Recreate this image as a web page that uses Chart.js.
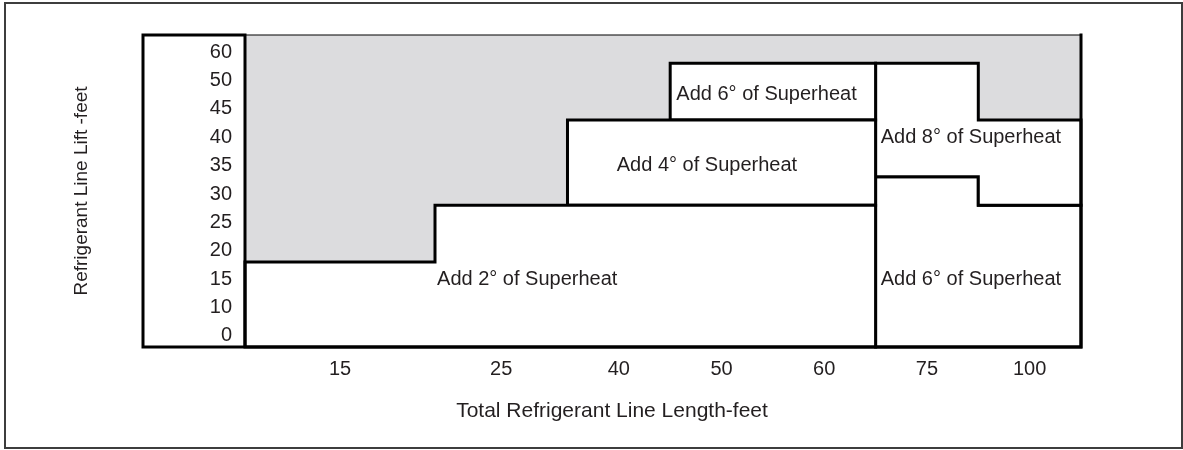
<!DOCTYPE html>
<html>
<head>
<meta charset="utf-8">
<script src="https://cdn.jsdelivr.net/npm/chart.js@4.4.1/dist/chart.umd.min.js"></script>
<style>
  html, body { margin: 0; padding: 0; background: #fff; }
  #page { position: relative; width: 1183px; height: 450px; overflow: hidden; }
  #border { position: absolute; left: 4px; top: 2px; width: 1179px; height: 447px;
            box-sizing: border-box; border: 2px solid #3d3d3d; pointer-events: none; }
  canvas { position: absolute; left: 0; top: 0; }
</style>
</head>
<body>
<div id="page">
  <canvas id="chart" width="1183" height="450"></canvas>
  <div id="border"></div>
</div>
<script>
// Length columns (feet) along the bottom, and their relative widths
const lengthLabels = ['15', '25', '40', '50', '60', '75', '100'];
const lengthColumnWidths = [1.85, 1.29, 1, 1, 1, 1, 1];

// Lift rows (feet), bottom to top
const liftLabels = [0, 10, 15, 20, 25, 30, 35, 40, 45, 50, 60];

// Superheat zones: per length column, [lift above, lift up to]; null = column not in zone
const superheat2 = [[null, 15], [null, 25], [null, 25], [null, 25], [null, 25], null, null];
const superheat4 = [null, null, [25, 40], [25, 40], [25, 40], null, null];
const superheat6Upper = [null, null, null, [40, 50], [40, 50], null, null];
const superheat8 = [null, null, null, null, null, [30, 50], [25, 40]];
const superheat6Lower = [null, null, null, null, null, [null, 30], [null, 25]];

const zoneNames = ['Add 2° of Superheat', 'Add 4° of Superheat', 'Add 6° of Superheat',
                   'Add 8° of Superheat', 'Add 6° of Superheat'];
const zoneRanges = [superheat2, superheat4, superheat6Upper, superheat8, superheat6Lower];

const FONT = '"Liberation Sans", Arial, Helvetica, sans-serif';
const TEXT = '#231f20';

// column edges in axis units
const columnEdges = [0];
lengthColumnWidths.forEach((w, i) => columnEdges.push(columnEdges[i] + w));
const lengthMax = columnEdges[columnEdges.length - 1];

// top of a lift row in axis units (null = ground)
const rowTop = v => v === null ? 0 : liftLabels.indexOf(v) + 1;

// closed outline of a zone, walking its top steps left→right and its bottom steps back
function zoneOutline(ranges) {
  const cols = ranges.map((r, i) => r ? i : -1).filter(i => i >= 0);
  let pts = [];
  cols.forEach(i => {
    const t = rowTop(ranges[i][1]);
    pts.push({ x: columnEdges[i], y: t }, { x: columnEdges[i + 1], y: t });
  });
  cols.slice().reverse().forEach(i => {
    const b = rowTop(ranges[i][0]);
    pts.push({ x: columnEdges[i + 1], y: b }, { x: columnEdges[i], y: b });
  });
  // drop repeated and collinear points so corners join cleanly
  pts = pts.filter((p, i) => i === 0 || p.x !== pts[i - 1].x || p.y !== pts[i - 1].y);
  const out = [];
  pts.forEach((p, i) => {
    const prev = pts[(i - 1 + pts.length) % pts.length];
    const next = pts[(i + 1) % pts.length];
    const collinear = (prev.x === p.x && p.x === next.x) || (prev.y === p.y && p.y === next.y);
    if (!collinear) out.push(p);
  });
  out.push({ ...out[0] });
  return out;
}

const plotBackground = {
  id: 'plotBackground',
  beforeDraw(chart, args, opts) {
    const { ctx, chartArea: a } = chart;
    ctx.save();
    ctx.fillStyle = opts.color;
    ctx.fillRect(a.left, a.top, a.right - a.left, a.bottom - a.top);
    ctx.restore();
  }
};

const tableFrame = {
  id: 'tableFrame',
  afterDatasetsDraw(chart, args, opts) {
    const { ctx, chartArea: a } = chart;
    const boxLeft = a.left - opts.labelBoxWidth;
    ctx.save();
    ctx.strokeStyle = '#000';
    ctx.lineCap = 'square';
    ctx.lineWidth = 1.2;
    ctx.beginPath();
    ctx.moveTo(a.left, a.top); ctx.lineTo(a.right, a.top);
    ctx.stroke();
    ctx.lineWidth = 3;
    ctx.beginPath();
    ctx.moveTo(a.left, a.top); ctx.lineTo(boxLeft, a.top); ctx.lineTo(boxLeft, a.bottom); ctx.lineTo(a.right, a.bottom);
    ctx.moveTo(a.left, a.top); ctx.lineTo(a.left, a.bottom);
    ctx.moveTo(a.right, a.top); ctx.lineTo(a.right, a.bottom);
    ctx.stroke();
    // bottom axis title, centred under the whole table
    ctx.fillStyle = TEXT;
    ctx.font = opts.titleFont;
    ctx.textAlign = 'center';
    ctx.textBaseline = 'middle';
    ctx.fillText(opts.xTitle, (boxLeft + a.right) / 2, a.bottom + opts.xTitleOffset);
    ctx.restore();
  }
};

const zoneLabels = {
  id: 'zoneLabels',
  afterDatasetsDraw(chart, args, opts) {
    const { ctx, scales: { x, y } } = chart;
    ctx.save();
    ctx.fillStyle = TEXT;
    ctx.font = opts.font;
    ctx.textAlign = 'left';
    ctx.textBaseline = 'middle';
    opts.anchors.forEach(an => {
      const px = x.getPixelForValue(columnEdges[an.column] + an.inset);
      const py = y.getPixelForValue(an.row) + opts.offset;
      ctx.fillText(zoneNames[an.zone], px, py);
    });
    ctx.restore();
  }
};

new Chart(document.getElementById('chart'), {
  type: 'scatter',
  data: {
    datasets: zoneRanges.map((r, i) => ({
      label: zoneNames[i],
      data: zoneOutline(r),
      showLine: true,
      fill: 'shape',
      backgroundColor: '#ffffff',
      borderColor: '#000000',
      borderWidth: 3,
      borderJoinStyle: 'miter',
      borderCapStyle: 'square',
      tension: 0,
      pointRadius: 0,
      pointHoverRadius: 0,
      clip: false
    }))
  },
  options: {
    responsive: false,
    animation: false,
    devicePixelRatio: 1,
    layout: { padding: { left: 70, top: 35, right: 102, bottom: 0 } },
    plugins: {
      legend: { display: false },
      tooltip: { enabled: false },
      plotBackground: { color: '#dcdcde' },
      tableFrame: { labelBoxWidth: 102, xTitle: 'Total Refrigerant Line Length-feet',
                    titleFont: '21px ' + FONT, xTitleOffset: 64 },
      zoneLabels: {
        font: '20px ' + FONT,
        offset: 3,
        anchors: [
          { zone: 0, column: 1, inset: 0.02, row: 2.5 },
          { zone: 1, column: 2, inset: 0.48, row: 6.5 },
          { zone: 2, column: 3, inset: 0.06, row: 9 },
          { zone: 3, column: 5, inset: 0.05, row: 7.5 },
          { zone: 4, column: 5, inset: 0.05, row: 2.5 }
        ]
      }
    },
    scales: {
      x: {
        type: 'linear',
        min: 0,
        max: lengthMax,
        grid: { display: false, drawTicks: false },
        border: { display: false },
        afterFit: s => { s.height = 103; },
        afterBuildTicks: s => {
          s.ticks = lengthLabels.map((l, i) => ({ value: (columnEdges[i] + columnEdges[i + 1]) / 2 }));
        },
        ticks: {
          autoSkip: false, maxRotation: 0, padding: 10,
          color: TEXT, font: { family: FONT, size: 20 },
          callback: (v, i) => lengthLabels[i]
        }
      },
      y: {
        type: 'linear',
        min: 0,
        max: liftLabels.length,
        grid: { display: false, drawTicks: false },
        border: { display: false },
        afterFit: s => { s.width = 175; },
        afterBuildTicks: s => {
          s.ticks = liftLabels.map((l, i) => ({ value: i + 0.5 }));
        },
        ticks: {
          autoSkip: false, padding: 13, labelOffset: 3,
          color: TEXT, font: { family: FONT, size: 20 },
          callback: (v, i) => String(liftLabels[i])
        },
        title: {
          display: true, text: 'Refrigerant Line Lift -feet',
          color: TEXT, font: { family: FONT, size: 19 },
          padding: { top: 0, bottom: 0 }
        }
      }
    }
  },
  plugins: [plotBackground, tableFrame, zoneLabels]
});
</script>
</body>
</html>
